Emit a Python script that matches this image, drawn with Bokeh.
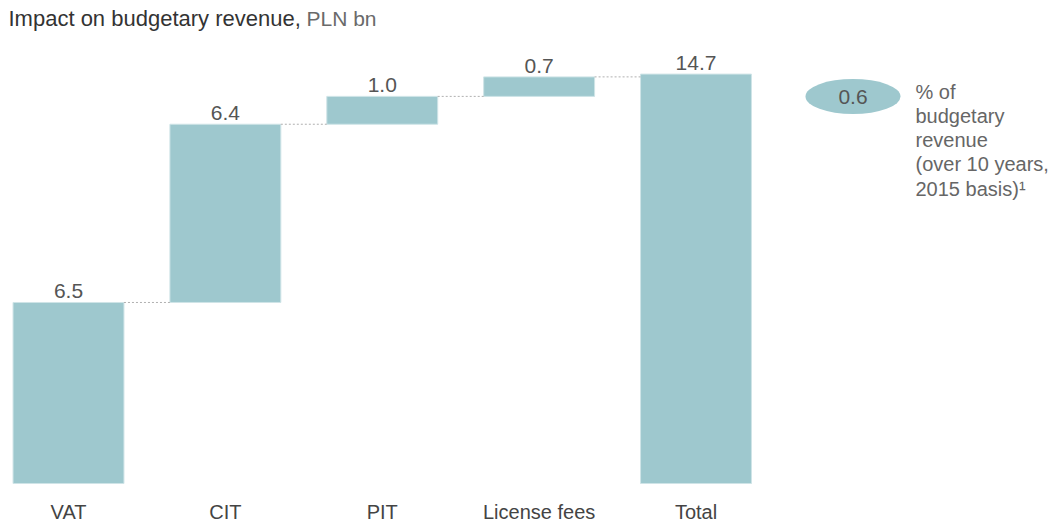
from bokeh.plotting import figure
from bokeh.models import Range1d, ColumnDataSource
from bokeh.embed import file_html
from bokeh.resources import INLINE
from bokeh.core.properties import value

# ---- data ----
categories = ["VAT", "CIT", "PIT", "License fees", "Total"]
values = [6.5, 6.4, 1.0, 0.7, 14.7]
value_labels = ["6.5", "6.4", "1.0", "0.7", "14.7"]
share_value = "0.6"
note_lines = ["% of", "budgetary", "revenue", "(over 10 years,", "2015 basis)\u00b9"]
title_main = "Impact on budgetary revenue,"
title_unit = "PLN bn"

# ---- styling ----
BAR = "#9ec8ce"
BAR_EDGE = "#cfe4e7"
TXT = "#555555"
DARK = "#333333"
FONT = value("Liberation Sans")

W, H = 1050, 522
OFF = 0.0  # observed page offset of the canvas
# pixel <-> data mapping (frame fills canvas)
X0, DX = 68.0, 156.875
Y0, DY = 483.0, 27.85
def px(x):
    return (x - X0) / DX
def py(y):
    return (Y0 - y) / DY

p = figure(width=W, height=H, output_backend="svg", toolbar_location=None,
           x_axis_location=None, y_axis_location=None,
           x_range=Range1d(px(OFF), px(OFF + W)), y_range=Range1d(py(OFF + H), py(OFF)),
           min_border=0, min_border_left=0, min_border_right=0,
           min_border_top=0, min_border_bottom=0)
p.outline_line_color = None
p.grid.visible = False
p.background_fill_color = "white"
p.border_fill_color = "white"

# waterfall geometry
n = len(categories)
xs = list(range(n))
bottoms, tops = [], []
cum = 0.0
for i, v in enumerate(values):
    if i == n - 1:
        bottoms.append(0.0)
        tops.append(v)
    else:
        bottoms.append(cum)
        cum += v
        tops.append(cum)

bw = 0.707
src = ColumnDataSource(dict(x=xs, bottom=bottoms, top=tops, lab=value_labels, cat=categories))
p.vbar(x="x", bottom="bottom", top="top", width=bw, source=src,
       fill_color=BAR, line_color=BAR_EDGE, line_width=1)

# connectors
x0s, x1s, lv = [], [], []
for i in range(n - 1):
    x0s.append(xs[i] + bw / 2)
    x1s.append(xs[i + 1] - bw / 2)
    lv.append(tops[i])
p.segment(x0=x0s, y0=lv, x1=x1s, y1=lv, line_color="#b0b0b0", line_width=1, line_dash="2 2")

# value labels
p.text(x="x", y="top", text="lab", source=src, text_align="center", text_baseline="bottom",
       y_offset=-4, text_font=FONT, text_font_size="21px", text_color=TXT)

# category labels
p.text(x="x", y=py(511), text="cat", source=src, text_align="center", text_baseline="middle",
       text_font=FONT, text_font_size="20px", text_color="#444444")

# title
p.text(x=[px(8)], y=[py(18)], text=[title_main], text_align="left", text_baseline="middle",
       text_font=FONT, text_font_size="22px", text_color=DARK)
p.text(x=[px(306)], y=[py(18)], text=[title_unit], text_align="left", text_baseline="middle",
       text_font=FONT, text_font_size="21px", text_color="#6a6a6a")

# side note
p.ellipse(x=[px(852.5)], y=[py(96)], width=95, height=35,
          width_units="screen", height_units="screen",
          fill_color=BAR, line_color=None)
p.text(x=[px(852.5)], y=[py(96)], text=[share_value], text_align="center", text_baseline="middle",
       text_font=FONT, text_font_size="21px", text_color=TXT)
ny = [py(91 + 24.3 * k) for k in range(len(note_lines))]
p.text(x=[px(915)] * len(note_lines), y=ny, text=note_lines, text_align="left",
       text_baseline="middle", text_font=FONT, text_font_size="20px", text_color="#666666")

open("out.html", "w").write(file_html(p, INLINE))
